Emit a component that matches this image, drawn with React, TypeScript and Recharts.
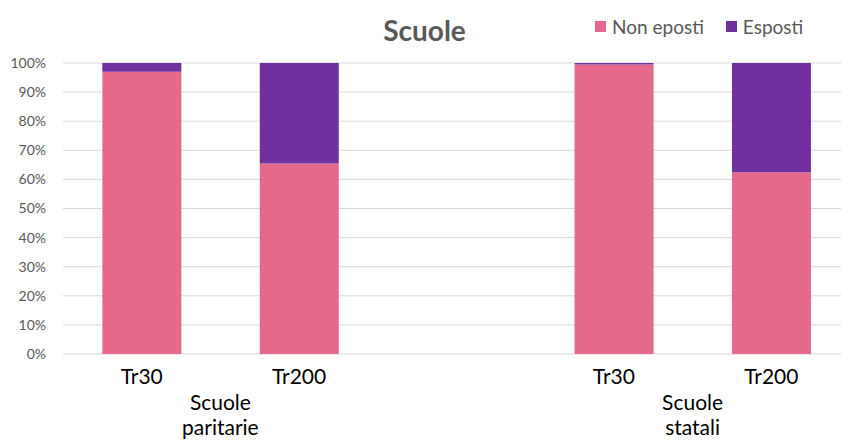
import React from 'react';
import { BarChart, Bar, XAxis, YAxis, CartesianGrid } from 'recharts';

// Thresholds per school group; the empty slot separates the two groups
const categories = ['Tr30', 'Tr200', '', 'Tr30', 'Tr200'];
const groups = ['Scuole paritarie', 'Scuole paritarie', '', 'Scuole statali', 'Scuole statali'];
const nonEsposti = [97, 65.5, null, 99.5, 62.5];
const esposti = [3, 34.5, null, 0.5, 37.5];
const yTicks = [0, 10, 20, 30, 40, 50, 60, 70, 80, 90, 100];
const seriesNames = ['Non eposti', 'Esposti'];

const PINK = '#E4698B';
const PURPLE = '#7030A0';
const FONT = 'Lato, "Open Sans", sans-serif';

const CHART_W = 841;
const CHART_H = 441;
// the plot runs a little past the right edge of the chart
const MARGIN = { top: 63, right: -9, bottom: 0, left: 8 };
const Y_W = 55;
const SLOT = (CHART_W - MARGIN.left - MARGIN.right - Y_W) / categories.length;

const data = categories.map((c, i) => ({
  cat: c,
  idx: i,
  group: groups[i],
  nonEsposti: nonEsposti[i],
  esposti: esposti[i],
}));

const CategoryTick = (props: any) => {
  const { x, y, index } = props;
  const row = data[index];
  if (!row) return null;
  const firstOfGroup = row.group && (index === 0 || data[index - 1].group !== row.group);
  const words = row.group ? row.group.split(' ') : [];
  return (
    <g>
      <text x={x} y={y + 30} textAnchor="middle" fill="#000" fontSize={21} fontFamily={FONT}>
        {row.cat}
      </text>
      {firstOfGroup &&
        words.map((w: string, k: number) => (
          <text
            key={k}
            x={x + SLOT / 2}
            y={y + 56 + k * 25}
            textAnchor="middle"
            fill="#000"
            fontSize={21}
            fontFamily={FONT}
          >
            {w}
          </text>
        ))}
    </g>
  );
};

export default function App() {
  const colors = [PINK, PURPLE];
  return (
    <div style={{ position: 'absolute', left: 0, top: 0, width: 841, height: 441, overflow: 'hidden', background: '#fff' }}>
      <div
        style={{
          position: 'absolute',
          top: 13,
          left: 0,
          width: 849,
          textAlign: 'center',
          fontFamily: FONT,
          fontWeight: 'bold',
          fontSize: 28,
          color: '#595959',
          zIndex: 1,
        }}
      >
        Scuole
      </div>
      <div
        style={{
          position: 'absolute',
          top: 15,
          left: 595,
          display: 'flex',
          alignItems: 'center',
          fontFamily: FONT,
          fontSize: 19,
          color: '#595959',
          zIndex: 1,
          whiteSpace: 'nowrap',
        }}
      >
        {seriesNames.map((n, i) => (
          <React.Fragment key={n}>
            <span style={{ width: 11, height: 11, background: colors[i], display: 'inline-block', marginRight: 6 }} />
            <span style={{ marginRight: 22 }}>{n}</span>
          </React.Fragment>
        ))}
      </div>
      <BarChart width={CHART_W} height={CHART_H} data={data} margin={MARGIN} barCategoryGap="25%">
        <CartesianGrid vertical={false} stroke="#D9D9D9" strokeWidth={1} />
        <XAxis
          dataKey="idx"
          type="category"
          axisLine={false}
          tickLine={false}
          tickSize={0}
          tickMargin={0}
          height={87}
          interval={0}
          tick={<CategoryTick />}
        />
        <YAxis
          width={Y_W}
          domain={[0, 100]}
          ticks={yTicks}
          tickFormatter={(v: number) => `${v}%`}
          axisLine={false}
          tickLine={false}
          tickSize={0}
          tickMargin={17}
          tick={{ fill: '#595959', fontSize: 14, fontFamily: FONT }}
        />
        <Bar dataKey="nonEsposti" name={seriesNames[0]} stackId="a" fill={PINK} isAnimationActive={false} />
        <Bar dataKey="esposti" name={seriesNames[1]} stackId="a" fill={PURPLE} isAnimationActive={false} />
      </BarChart>
    </div>
  );
}
